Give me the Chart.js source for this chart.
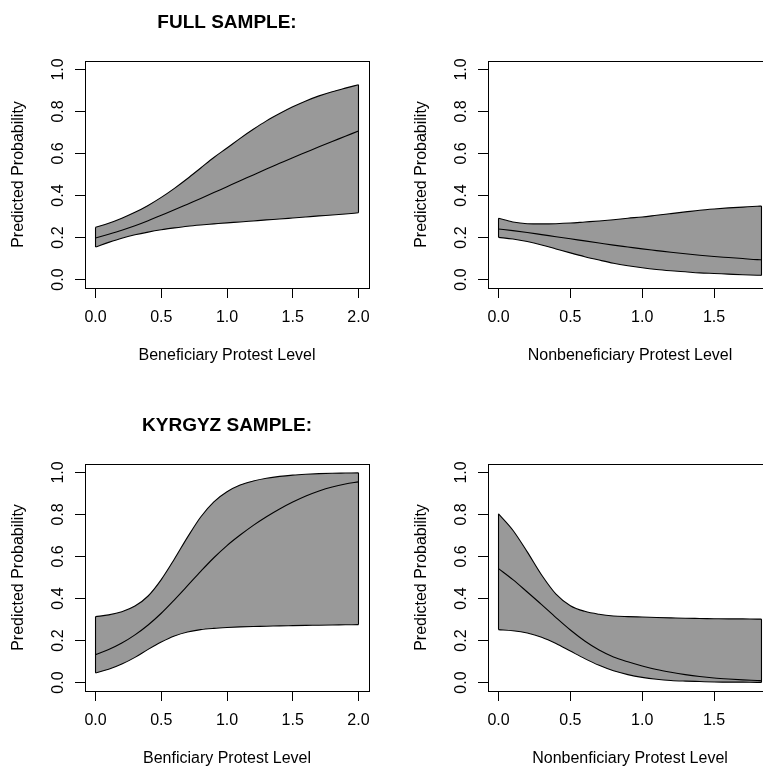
<!DOCTYPE html>
<html>
<head>
<meta charset="utf-8">
<script src="https://cdn.jsdelivr.net/npm/chart.js@4"></script>
<style>
  html, body { margin: 0; padding: 0; background: #fff; overflow: hidden; width: 763px; height: 771px; }
  .panel { position: absolute; width: 403px; height: 403px; }
</style>
</head>
<body>
<canvas id="fullBen" class="panel" width="403" height="403" style="left:0;top:0"></canvas>
<canvas id="fullNon" class="panel" width="403" height="403" style="left:403px;top:0"></canvas>
<canvas id="kgBen" class="panel" width="403" height="403" style="left:0;top:403px"></canvas>
<canvas id="kgNon" class="panel" width="403" height="403" style="left:403px;top:403px"></canvas>
<script>
// x values of the curves
const benX = [0, 0.1, 0.2, 0.3, 0.4, 0.5, 0.6, 0.7, 0.8, 0.9, 1.0, 1.1, 1.2, 1.3, 1.4, 1.5, 1.6, 1.7, 1.8, 1.9, 2.0];
const nonbenX = [0, 0.1, 0.2, 0.3, 0.4, 0.5, 0.6, 0.7, 0.8, 0.9, 1.0, 1.1, 1.2, 1.3, 1.4, 1.5, 1.6, 1.7, 1.8, 1.83];

// full sample, beneficiary
const fullBenUpper = [0.249, 0.268, 0.292, 0.32, 0.353, 0.391, 0.434, 0.481, 0.531, 0.581, 0.626, 0.672, 0.715, 0.755, 0.79, 0.822, 0.85, 0.874, 0.894, 0.911, 0.927];
const fullBenMid = [0.198, 0.216, 0.235, 0.256, 0.28, 0.306, 0.332, 0.359, 0.386, 0.414, 0.442, 0.47, 0.498, 0.526, 0.553, 0.58, 0.606, 0.632, 0.657, 0.682, 0.707];
const fullBenLower = [0.155, 0.177, 0.197, 0.213, 0.226, 0.237, 0.246, 0.254, 0.26, 0.265, 0.27, 0.274, 0.279, 0.284, 0.288, 0.293, 0.298, 0.303, 0.307, 0.312, 0.318];

// full sample, nonbeneficiary
const fullNonUpper = [0.292, 0.274, 0.266, 0.265, 0.266, 0.269, 0.274, 0.279, 0.285, 0.292, 0.298, 0.306, 0.314, 0.322, 0.33, 0.336, 0.341, 0.345, 0.349, 0.35];
const fullNonMid = [0.241, 0.233, 0.224, 0.214, 0.204, 0.194, 0.184, 0.174, 0.164, 0.155, 0.146, 0.138, 0.13, 0.123, 0.116, 0.11, 0.105, 0.1, 0.095, 0.094];
const fullNonLower = [0.201, 0.193, 0.181, 0.165, 0.146, 0.127, 0.109, 0.093, 0.078, 0.066, 0.056, 0.048, 0.042, 0.037, 0.032, 0.029, 0.026, 0.023, 0.021, 0.02];

// kyrgyz sample, beneficiary
const kgBenUpper = [0.314, 0.322, 0.337, 0.364, 0.412, 0.49, 0.588, 0.692, 0.788, 0.86, 0.908, 0.94, 0.959, 0.972, 0.981, 0.987, 0.991, 0.994, 0.996, 0.997, 0.998];
const kgBenMid = [0.133, 0.157, 0.188, 0.227, 0.274, 0.33, 0.394, 0.461, 0.529, 0.594, 0.652, 0.702, 0.748, 0.789, 0.826, 0.859, 0.888, 0.912, 0.931, 0.945, 0.955];
const kgBenLower = [0.046, 0.063, 0.088, 0.12, 0.158, 0.193, 0.222, 0.241, 0.252, 0.258, 0.262, 0.265, 0.267, 0.268, 0.27, 0.271, 0.272, 0.273, 0.274, 0.275, 0.276];

// kyrgyz sample, nonbeneficiary
const kgNonUpper = [0.803, 0.725, 0.622, 0.512, 0.421, 0.366, 0.339, 0.325, 0.317, 0.314, 0.312, 0.31, 0.308, 0.306, 0.305, 0.304, 0.303, 0.303, 0.302, 0.302];
const kgNonMid = [0.542, 0.49, 0.431, 0.371, 0.309, 0.25, 0.198, 0.155, 0.122, 0.099, 0.079, 0.062, 0.049, 0.038, 0.029, 0.022, 0.017, 0.013, 0.01, 0.009];
const kgNonLower = [0.252, 0.247, 0.236, 0.216, 0.186, 0.15, 0.114, 0.082, 0.056, 0.038, 0.025, 0.016, 0.01, 0.007, 0.005, 0.003, 0.002, 0.002, 0.001, 0.001];

// tick labels
const benTicks = [0, 0.5, 1.0, 1.5, 2.0];
const nonbenTicks = [0, 0.5, 1.0, 1.5];
const probTicks = [0, 0.2, 0.4, 0.6, 0.8, 1.0];

Chart.defaults.font.family = "'Liberation Sans', Arial, sans-serif";
Chart.defaults.font.size = 16;
Chart.defaults.color = '#000';

// R style box around the plot region + main title
const boxPlugin = {
  id: 'rbox',
  afterDatasetsDraw(chart, args, opts) {
    const {ctx, chartArea: a} = chart;
    ctx.save();
    ctx.strokeStyle = '#000';
    ctx.lineWidth = 1;
    ctx.strokeRect(a.left + 0.5, a.top + 0.5, a.right - a.left, a.bottom - a.top);
    if (opts.text) {
      ctx.font = "bold 19px 'Liberation Sans', Arial, sans-serif";
      ctx.fillStyle = '#000';
      ctx.textAlign = 'center';
      ctx.textBaseline = 'middle';
      ctx.fillText(opts.text, (a.left + a.right) / 2, 23);
    }
    ctx.restore();
  }
};

function pts(xs, ys) {
  return xs.map((x, i) => ({x: x, y: ys[i]}));
}

function makePanel(id, title, xLabel, xs, upper, mid, lower, xTicks) {
  const n = xs.length - 1;
  const pad = 0.04 * (xs[n] - xs[0]);
  const line = {borderColor: '#000', borderWidth: 1.1, pointRadius: 0, fill: false, cubicInterpolationMode: 'monotone'};
  new Chart(document.getElementById(id), {
    type: 'line',
    data: {
      datasets: [
        Object.assign({}, line, {label: 'upper', data: pts(xs, upper), fill: 1, backgroundColor: '#999999'}),
        Object.assign({}, line, {label: 'lower', data: pts(xs, lower)}),
        Object.assign({}, line, {label: 'predicted', data: pts(xs, mid)}),
        Object.assign({}, line, {label: 'start', data: [{x: xs[0], y: lower[0]}, {x: xs[0], y: upper[0]}]}),
        Object.assign({}, line, {label: 'end', data: [{x: xs[n], y: lower[n]}, {x: xs[n], y: upper[n]}]})
      ]
    },
    options: {
      responsive: false,
      animation: false,
      devicePixelRatio: 1,
      layout: {padding: {top: 61, right: 34, left: 0, bottom: 0}},
      plugins: {
        legend: {display: false},
        tooltip: {enabled: false},
        filler: {drawTime: 'beforeDatasetsDraw'},
        rbox: {text: title}
      },
      scales: {
        x: {
          type: 'linear',
          min: xs[0] - pad,
          max: xs[n] + pad,
          afterBuildTicks: s => { s.ticks = xTicks.map(v => ({value: v})); },
          afterFit: s => { s.height = 115; },
          border: {display: false},
          grid: {drawOnChartArea: false, drawTicks: true, tickLength: 10, tickColor: '#000'},
          ticks: {autoSkip: false, padding: 10, maxRotation: 0, callback: v => v.toFixed(1)},
          title: {display: true, text: xLabel, padding: {top: 0, bottom: 38}}
        },
        y: {
          min: -0.04,
          max: 1.04,
          afterBuildTicks: s => { s.ticks = probTicks.map(v => ({value: v})); },
          afterFit: s => { s.width = 85; },
          border: {display: false},
          grid: {drawOnChartArea: false, drawTicks: true, tickLength: 10, tickColor: '#000'},
          ticks: {autoSkip: false, padding: 5, minRotation: 90, maxRotation: 90, crossAlign: 'center', callback: v => v.toFixed(1)},
          title: {display: true, text: 'Predicted Probability', padding: {top: 9, bottom: 0}}
        }
      }
    },
    plugins: [boxPlugin]
  });
}

makePanel('fullBen', 'FULL SAMPLE:', 'Beneficiary Protest Level', benX, fullBenUpper, fullBenMid, fullBenLower, benTicks);
makePanel('fullNon', '', 'Nonbeneficiary Protest Level', nonbenX, fullNonUpper, fullNonMid, fullNonLower, nonbenTicks);
makePanel('kgBen', 'KYRGYZ SAMPLE:', 'Benficiary Protest Level', benX, kgBenUpper, kgBenMid, kgBenLower, benTicks);
makePanel('kgNon', '', 'Nonbenficiary Protest Level', nonbenX, kgNonUpper, kgNonMid, kgNonLower, nonbenTicks);
</script>
</body>
</html>
